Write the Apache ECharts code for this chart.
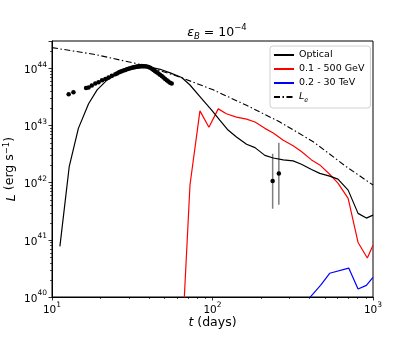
<!DOCTYPE html>
<html>
<head>
<meta charset="utf-8">
<script src="https://cdn.jsdelivr.net/npm/echarts@6/dist/echarts.min.js"></script>
<style>
  html, body { margin: 0; padding: 0; background: #fff; }
  #chart { width: 415px; height: 340px; }
</style>
</head>
<body>
<div id="chart"></div>
<script>
// optical model light curve
const tOpt = [11.2, 12.8, 14.6, 16.9, 19.1, 22.0, 25.4, 29.2, 35.4, 40.8, 47.2, 54.5, 64.3, 72.4, 83.5, 98.8, 111, 125, 141, 163, 184, 212, 239, 276, 318, 358, 414, 466, 537, 605, 700, 807, 909, 1000]
const lOpt = [7.7e40, 1.9e42, 8.9e42, 2.4e43, 4.2e43, 6.2e43, 7.9e43, 9.4e43, 1.02e44, 1.05e44, 9.6e43, 8.3e43, 6.9e43, 5.1e43, 3.2e43, 1.85e43, 1.24e43, 8.3e42, 6.3e42, 4.7e42, 4.1e42, 3.0e42, 2.7e42, 2.5e42, 2.4e42, 2.1e42, 1.7e42, 1.45e42, 1.3e42, 1.15e42, 7.4e41, 2.9e41, 2.4e41, 2.7e41]

// 0.1 - 500 GeV
const tGeV = [66.5, 72.4, 83.5, 95.0, 108.6, 122, 141, 163, 184, 212, 239, 276, 318, 358, 414, 466, 537, 605, 700, 807, 922, 1000]
const lGeV = [8e39, 9.1e41, 1.8e43, 9.3e42, 1.95e43, 1.6e43, 1.4e43, 1.29e43, 1.15e43, 8.9e42, 7.4e42, 5.5e42, 4.4e42, 3.5e42, 2.5e42, 2.04e42, 1.4e42, 9.8e41, 5.3e41, 9.0e40, 4.8e40, 8.0e40]

// 0.2 - 30 TeV
const tTeV = [400, 471, 537, 706, 807, 909, 1000]
const lTeV = [9.5e39, 1.6e40, 2.6e40, 3.2e40, 1.38e40, 1.6e40, 2.2e40]

// L_e
const tLe = [10, 18.6, 36.3, 62.8, 101, 163, 263, 424, 682, 1000]
const lLe = [2.3e44, 1.74e44, 1.15e44, 7.0e43, 4.2e43, 2.25e43, 1.15e43, 5.2e42, 1.9e42, 9.1e41]

// observed optical points
const tObs = [12.7, 13.6, 16.3, 16.9, 17.7, 18.6, 19.5, 20.5, 21.5, 22.5, 23.6, 24.8, 25.4, 26.0, 26.6, 27.2, 27.9, 28.6, 29.3, 30.0, 30.7, 31.4, 32.2, 33.0, 33.8, 34.6, 35.4, 36.3, 37.1, 38.0, 38.9, 39.9, 40.9, 41.9, 42.9, 43.9, 44.9, 46.0, 47.1, 48.3, 49.5, 50.7, 51.9, 53.1, 54.4, 55.7]
const lObs = [3.5e43, 3.8e43, 4.5e43, 4.6e43, 5.0e43, 5.4e43, 5.7e43, 6.2e43, 6.5e43, 6.9e43, 7.4e43, 7.9e43, 8.1e43, 8.4e43, 8.7e43, 8.9e43, 9.1e43, 9.3e43, 9.6e43, 9.8e43, 1.0e44, 1.02e44, 1.04e44, 1.05e44, 1.07e44, 1.08e44, 1.09e44, 1.1e44, 1.09e44, 1.08e44, 1.07e44, 1.05e44, 1.02e44, 9.8e43, 9.3e43, 8.9e43, 8.5e43, 8.1e43, 7.7e43, 7.3e43, 6.9e43, 6.5e43, 6.2e43, 5.9e43, 5.6e43, 5.4e43]

// late points with error bars
const tErr = [237, 259]
const lErr = [1.07e42, 1.45e42]
const lErrLo = [3.5e41, 4.1e41]
const lErrHi = [3.2e42, 5.0e42]

// axes
const xMin = 10, xMax = 1000
const yMin = 1e40, yMax = 3e44
const minorMult = [2, 3, 4, 5, 6, 7, 8, 9]
const xDecades = [10, 100]
const yDecades = [1e40, 1e41, 1e42, 1e43, 1e44]

const zip = (a, b) => a.map((v, i) => [v, b[i]])
const FONT = 'DejaVu Sans'

const xMinor = []
xDecades.forEach((d) => minorMult.forEach((m) => xMinor.push(d * m)))
const yMinor = []
yDecades.forEach((d) => minorMult.forEach((m) => { if (d * m < yMax) yMinor.push(d * m) }))

const supRich = {
  b: { fontSize: 10.5, fontFamily: FONT, color: '#000', verticalAlign: 'bottom' },
  s: { fontSize: 7.5, fontFamily: FONT, color: '#000', padding: [0, 0, 7, 0], verticalAlign: 'bottom' },
}
const powLabel = (v) => {
  const e = Math.log10(v)
  const n = Math.round(e)
  if (Math.abs(e - n) > 0.01) return ''
  return '{b|10}{s|' + n + '}'
}

const chart = echarts.init(document.getElementById('chart'), null, { renderer: 'canvas' })

chart.setOption({
  animation: false,
  backgroundColor: '#fff',
  textStyle: { fontFamily: FONT },
  title: {
    text: '{i|ε}{sub|B}{n| = 10}{sup|−4}',
    left: 212,
    textAlign: 'center',
    top: 18,
    textStyle: {
      fontWeight: 'normal',
      rich: {
        i: { fontSize: 12.5, fontStyle: 'italic', fontWeight: 'normal', fontFamily: FONT, color: '#000', verticalAlign: 'bottom' },
        sub: { fontSize: 8.5, fontStyle: 'italic', fontWeight: 'normal', fontFamily: FONT, color: '#000', verticalAlign: 'bottom', padding: [0, 0, -2, 0] },
        n: { fontSize: 12.5, fontWeight: 'normal', fontFamily: FONT, color: '#000', verticalAlign: 'bottom' },
        sup: { fontSize: 8.5, fontWeight: 'normal', fontFamily: FONT, color: '#000', verticalAlign: 'bottom', padding: [0, 0, 7, 0] },
      },
    },
  },
  grid: {
    left: 52, right: 42, top: 41, bottom: 43,
    containLabel: false,
    outerBoundsMode: 'none',
    show: true, borderColor: '#000', borderWidth: 1, backgroundColor: 'transparent',
  },
  legend: {
    data: ['Optical', '0.1 - 500 GeV', '0.2 - 30 TeV', 'L_e'],
    orient: 'vertical',
    left: 270,
    top: 46,
    itemWidth: 20,
    itemHeight: 10,
    itemGap: 4,
    padding: [4, 6, 4, 3],
    borderColor: '#d0d0d0',
    borderWidth: 1,
    borderRadius: 3,
    backgroundColor: 'rgba(255,255,255,0.85)',
    itemStyle: { opacity: 0 },
    textStyle: {
      fontSize: 9.5,
      fontFamily: FONT,
      color: '#000',
      rich: {
        i: { fontSize: 9.5, fontStyle: 'italic', fontFamily: FONT, color: '#000', verticalAlign: 'bottom' },
        e: { fontSize: 6.5, fontStyle: 'italic', fontFamily: FONT, color: '#000', verticalAlign: 'bottom', padding: [0, 0, -2, 0] },
      },
    },
    formatter: (name) => (name === 'L_e' ? '{i|L}{e|e}' : name),
  },
  xAxis: {
    type: 'log',
    logBase: 10,
    min: xMin,
    max: xMax,
    name: '{i|t} (days)',
    nameLocation: 'middle',
    nameGap: 19,
    nameMoveOverlap: false,
    nameTextStyle: {
      fontSize: 12.5,
      color: '#000',
      rich: { i: { fontSize: 12.5, fontStyle: 'italic', fontFamily: FONT, color: '#000' } },
    },
    axisLine: { lineStyle: { color: '#000', width: 1 } },
    axisTick: { inside: false, length: 3.5, lineStyle: { color: '#000', width: 0.8 } },
    splitLine: { show: false },
    axisLabel: { margin: 4, formatter: powLabel, rich: supRich, showMaxLabel: true },
  },
  yAxis: {
    type: 'log',
    logBase: 10,
    min: yMin,
    max: yMax,
    name: '{i|L} (erg s{s|−1})',
    nameLocation: 'middle',
    nameRotate: 90,
    nameGap: 34,
    nameMoveOverlap: false,
    nameTextStyle: {
      fontSize: 12.5,
      color: '#000',
      rich: {
        i: { fontSize: 12.5, fontStyle: 'italic', fontFamily: FONT, color: '#000', verticalAlign: 'bottom' },
        s: { fontSize: 8.5, fontFamily: FONT, color: '#000', verticalAlign: 'bottom', padding: [0, 0, 7, 0] },
      },
    },
    axisLine: { show: true, lineStyle: { color: '#000', width: 1 } },
    axisTick: { show: true, inside: false, length: 3.5, lineStyle: { color: '#000', width: 0.8 } },
    splitLine: { show: false },
    axisLabel: { margin: 5, formatter: powLabel, rich: supRich },
  },
  series: [
    {
      name: 'Optical',
      type: 'line',
      data: zip(tOpt, lOpt),
      symbol: 'none',
      lineStyle: { color: '#000', width: 1.2 },
      itemStyle: { color: '#000' },
      z: 4,
    },
    {
      name: '0.1 - 500 GeV',
      type: 'line',
      data: zip(tGeV, lGeV),
      symbol: 'none',
      clip: true,
      lineStyle: { color: '#ff0000', width: 1.2 },
      itemStyle: { color: '#ff0000' },
      z: 3,
    },
    {
      name: '0.2 - 30 TeV',
      type: 'line',
      data: zip(tTeV, lTeV),
      symbol: 'none',
      clip: true,
      lineStyle: { color: '#0000ff', width: 1.2 },
      itemStyle: { color: '#0000ff' },
      z: 3,
    },
    {
      name: 'L_e',
      type: 'line',
      data: zip(tLe, lLe),
      symbol: 'none',
      lineStyle: { color: '#000', width: 1.1, type: [6, 2.5, 1.5, 2.5] },
      itemStyle: { color: '#000' },
      z: 3,
    },
    {
      name: 'obs',
      type: 'scatter',
      data: zip(tObs, lObs),
      symbol: 'circle',
      symbolSize: 4.5,
      itemStyle: { color: '#000', opacity: 1 },
      z: 5,
    },
    {
      name: 'errbars',
      type: 'custom',
      data: tErr.map((t, i) => [t, lErrLo[i], lErrHi[i]]),
      encode: { x: 0, y: [1, 2] },
      renderItem: (params, api) => {
        const lo = api.coord([api.value(0), api.value(1)])
        const hi = api.coord([api.value(0), api.value(2)])
        return {
          type: 'line',
          shape: { x1: lo[0], y1: lo[1], x2: hi[0], y2: hi[1] },
          style: { stroke: '#7f7f7f', lineWidth: 1.5 },
        }
      },
      z: 4,
    },
    {
      name: 'errpts',
      type: 'scatter',
      data: zip(tErr, lErr),
      symbol: 'circle',
      symbolSize: 4.5,
      itemStyle: { color: '#000', opacity: 1 },
      z: 6,
    },
    {
      name: 'xminor',
      type: 'custom',
      data: xMinor.map((v) => [v, yMin]),
      encode: { x: 0, y: 1 },
      renderItem: (params, api) => {
        const p = api.coord([api.value(0), api.value(1)])
        const x = Math.round(p[0]) + 0.5
        return { type: 'line', shape: { x1: x, y1: p[1], x2: x, y2: p[1] + 2 }, style: { stroke: '#000', lineWidth: 0.7 } }
      },
      silent: true,
      z: 1,
    },
    {
      name: 'yminor',
      type: 'custom',
      data: yMinor.map((v) => [xMin, v]),
      encode: { x: 0, y: 1 },
      renderItem: (params, api) => {
        const p = api.coord([api.value(0), api.value(1)])
        const y = Math.round(p[1]) + 0.5
        return { type: 'line', shape: { x1: p[0] - 2, y1: y, x2: p[0], y2: y }, style: { stroke: '#000', lineWidth: 0.7 } }
      },
      silent: true,
      z: 1,
    },
  ],
})

window.addEventListener('resize', () => chart.resize())
</script>
</body>
</html>
